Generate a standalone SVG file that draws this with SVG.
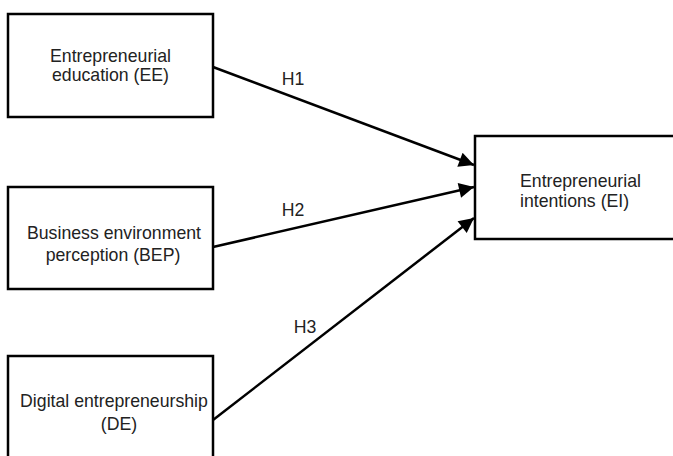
<svg xmlns="http://www.w3.org/2000/svg" width="673" height="456" viewBox="0 0 673 456">
<style>
.box{fill:#fff;stroke:#000;stroke-width:2.5}
.t{font-family:"Liberation Sans",Arial,sans-serif;font-size:17.7px;fill:#222}
.c{text-anchor:middle}
.edge{stroke:#000;stroke-width:2.5;fill:none}
</style>
<defs>
<marker id="ah" viewBox="0 0 10 10" refX="10" refY="5" markerWidth="7" markerHeight="6" markerUnits="strokeWidth" orient="auto">
<path d="M0,0 L10,5 L0,10 z" fill="#000"/>
</marker>
</defs>
<rect width="673" height="456" fill="#fff"/>
<g id="EE">
<rect class="box" x="8" y="14" width="205" height="103"/>
<text class="t c" x="110.5" y="62">Entrepreneurial</text>
<text class="t c" x="110.5" y="81">education (EE)</text>
</g>
<g id="BEP">
<rect class="box" x="8" y="187" width="205" height="102"/>
<text class="t c" x="114" y="239">Business environment</text>
<text class="t c" x="113" y="261">perception (BEP)</text>
</g>
<g id="DE">
<rect class="box" x="8" y="356" width="205" height="110"/>
<text class="t c" x="114" y="407">Digital entrepreneurship</text>
<text class="t c" x="119" y="430">(DE)</text>
</g>
<g id="EI">
<rect class="box" x="475" y="136" width="210" height="103"/>
<text class="t" x="520" y="187">Entrepreneurial</text>
<text class="t" x="520" y="207">intentions (EI)</text>
</g>
<g id="connectors">
<line class="edge" x1="213" y1="67" x2="474" y2="165" marker-end="url(#ah)"/>
<line class="edge" x1="213" y1="247" x2="474" y2="187" marker-end="url(#ah)"/>
<line class="edge" x1="213" y1="420" x2="474" y2="218" marker-end="url(#ah)"/>
<text class="t c" x="293" y="85">H1</text>
<text class="t c" x="293" y="216">H2</text>
<text class="t c" x="305" y="333">H3</text>
</g>
</svg>
